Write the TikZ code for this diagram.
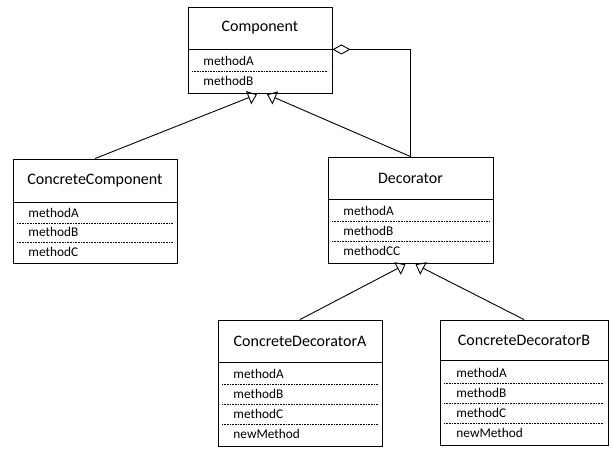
\documentclass[tikz,border=0pt]{standalone}
\usepackage{fontspec}
\setmainfont{Carlito}
\usetikzlibrary{arrows.meta}
\tikzset{
	head/.style={draw, inner sep=0pt, minimum height=42pt, font=\fontsize{16}{18}\selectfont},
	body/.style={draw, inner sep=0pt, anchor=north},
	meth/.style={anchor=west, inner sep=0pt, font=\fontsize{13.3}{15}\selectfont},
	sep/.style={line width=0.5pt, dash pattern=on 0.8pt off 0.8pt},
	inh/.style={-{Triangle[open,length=9pt,width=14pt]}},
	agg/.style={{Diamond[open,length=18pt,width=10pt]}-}
}
\begin{document}
\begin{tikzpicture}[x=1pt, y=-1pt, line width=0.9pt]
\useasboundingbox (0,0) rectangle (613,451);
% Component
\node[head, minimum width=144pt] (comp) at (260,28) {Component};
\node[body, minimum width=144pt, minimum height=44pt] (compb) at (comp.south) {};
\foreach \y / \m in {61/methodA, 81/methodB}
	\node[meth] at (203,\y) {\m};
\draw[sep] (192,71) -- (328,71);
% ConcreteComponent
\node[head, minimum width=164pt, minimum height=43pt] (cc) at (95,180.5) {ConcreteComponent};
\node[body, minimum width=164pt, minimum height=61pt] (ccb) at (cc.south) {};
\foreach \y / \m in {213/methodA, 232/methodB, 252/methodC}
	\node[meth] at (28,\y) {\m};
\foreach \y in {223, 242}
	\draw[sep] (17,\y) -- (173,\y);
% Decorator
\node[head, minimum width=165pt] (deco) at (410.5,178) {Decorator};
\node[body, minimum width=165pt, minimum height=64pt] (decob) at (deco.south) {};
\foreach \y / \m in {211/methodA, 231/methodB, 251/methodCC}
	\node[meth] at (343,\y) {\m};
\foreach \y in {221, 241}
	\draw[sep] (332,\y) -- (489,\y);
% ConcreteDecoratorA
\node[head, minimum width=164pt] (cda) at (300,341) {ConcreteDecoratorA};
\node[body, minimum width=164pt, minimum height=84pt] (cdab) at (cda.south) {};
\foreach \y / \m in {374/methodA, 394/methodB, 414/methodC, 434/newMethod}
	\node[meth] at (233,\y) {\m};
\foreach \y in {384, 404, 424}
	\draw[sep] (222,\y) -- (378,\y);
% ConcreteDecoratorB
\node[head, minimum width=168pt, minimum height=40pt] (cdb) at (524,340) {ConcreteDecoratorB};
\node[body, minimum width=168pt, minimum height=85pt] (cdbb) at (cdb.south) {};
\foreach \y / \m in {373/methodA, 393/methodB, 413/methodC, 433/newMethod}
	\node[meth] at (456,\y) {\m};
\foreach \y in {383, 403, 423}
	\draw[sep] (444,\y) -- (604,\y);
% connectors
\coordinate (tipL) at ([xshift=-3pt]compb.south);
\coordinate (tipR) at ([xshift=7pt]compb.south);
\coordinate (dtipL) at ([xshift=-5pt]decob.south);
\coordinate (dtipR) at ([xshift=5pt]decob.south);
\draw[inh] (cc.north) -- (tipL);
\draw[inh] (deco.north) -- (tipR);
\draw[inh] (cda.north) -- (dtipL);
\draw[inh] (cdb.north) -- (dtipR);
\draw[agg] (comp.south east) -| (deco.north);
\end{tikzpicture}
\end{document}
